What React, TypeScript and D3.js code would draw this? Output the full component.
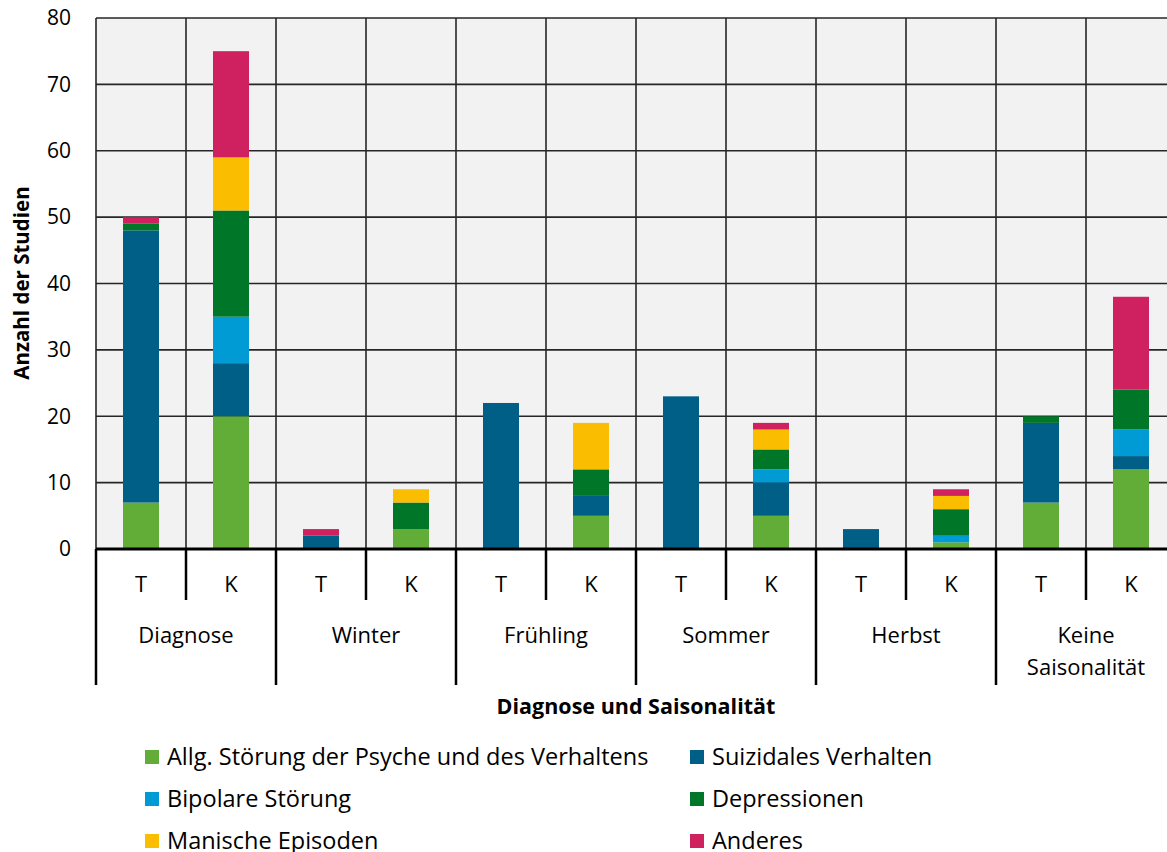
import React from "react";
import * as d3 from "d3";

const groups = ["Diagnose", "Winter", "Frühling", "Sommer", "Herbst", "Keine Saisonalität"];
const subs = ["T", "K"];
const seriesNames = [
  "Allg. Störung der Psyche und des Verhaltens",
  "Suizidales Verhalten",
  "Bipolare Störung",
  "Depressionen",
  "Manische Episoden",
  "Anderes",
];
const seriesColors = ["#62ad37", "#005f87", "#009ad4", "#007629", "#fbbd00", "#cf2060"];
// bars in order: Diagnose T, Diagnose K, Winter T, Winter K, ...
const allg = [7, 20, 0, 3, 0, 5, 0, 5, 0, 1, 7, 12];
const suiz = [41, 8, 2, 0, 22, 3, 23, 5, 3, 0, 12, 2];
const bipolar = [0, 7, 0, 0, 0, 0, 0, 2, 0, 1, 0, 4];
const depr = [1, 16, 0, 4, 0, 4, 0, 3, 0, 4, 1, 6];
const manisch = [0, 8, 0, 2, 0, 7, 0, 3, 0, 2, 0, 0];
const anderes = [1, 16, 1, 0, 0, 0, 0, 1, 0, 1, 0, 14];
const yTicks = [0, 10, 20, 30, 40, 50, 60, 70, 80];

const FONT = "'Open Sans', 'Noto Sans', sans-serif";

export default function App() {
  const W = 1167, H = 852;
  const left = 96, top = 18, bottom = 549;
  const slot = 90;
  const nBars = groups.length * subs.length;
  const right = left + slot * nBars;
  const barKeys = d3.range(nBars).map(String);
  const x = d3.scaleBand().domain(barKeys).range([left, right]).paddingInner(0.6).paddingOuter(0.3);
  const y = d3.scaleLinear().domain([0, 80]).range([bottom, top]);
  const table = barKeys.map((k, i) => ({
    key: k,
    s0: allg[i], s1: suiz[i], s2: bipolar[i], s3: depr[i], s4: manisch[i], s5: anderes[i],
  }));
  const stack = d3.stack<any>().keys(["s0", "s1", "s2", "s3", "s4", "s5"]);
  const layers = stack(table);
  const gridColor = "#262626";

  return (
    <svg width={W} height={H} style={{ position: "absolute", left: 0, top: 0 }} fontFamily={FONT}>
      <rect x={left} y={top} width={right - left} height={bottom - top} fill="#f2f2f2" />
      {yTicks.map((t) => (
        <line key={"g" + t} x1={left} x2={right} y1={y(t)} y2={y(t)} stroke={gridColor} strokeWidth={1.6} />
      ))}
      {d3.range(nBars + 1).map((i) => (
        <line key={"v" + i} x1={left + i * slot} x2={left + i * slot} y1={top} y2={bottom} stroke={gridColor} strokeWidth={1.6} />
      ))}
      {layers.map((layer, si) => (
        <g key={si} fill={seriesColors[si]}>
          {layer.map((d, i) =>
            d[1] - d[0] > 0 ? (
              <rect key={i} x={x(barKeys[i])} width={x.bandwidth()} y={y(d[1])} height={y(d[0]) - y(d[1])} />
            ) : null
          )}
        </g>
      ))}
      {yTicks.map((t) => (
        <text key={"t" + t} x={71} y={y(t)} dy="0.35em" textAnchor="end" fontSize={21} fill="#000">{t}</text>
      ))}
      <line x1={left} x2={right} y1={bottom} y2={bottom} stroke="#000" strokeWidth={3} />
      {d3.range(nBars + 1).map((i) => (
        <line key={"xt" + i} x1={left + i * slot} x2={left + i * slot} y1={bottom} y2={i % 2 === 0 ? 685 : 600} stroke="#000" strokeWidth={2.5} />
      ))}
      {barKeys.map((k, i) => (
        <text key={"s" + i} x={(x(k) as number) + x.bandwidth() / 2} y={584} dy="0.35em" textAnchor="middle" fontSize={22} fill="#000">{subs[i % 2]}</text>
      ))}
      {groups.map((g, gi) => {
        const cx = left + gi * slot * 2 + slot;
        const words = g === "Keine Saisonalität" ? ["Keine", "Saisonalität"] : [g];
        return words.map((w, wi) => (
          <text key={g + wi} x={cx} y={635 + wi * 32} dy="0.35em" textAnchor="middle" fontSize={22} fill="#000">{w}</text>
        ));
      })}
      <text x={636} y={706} dy="0.35em" textAnchor="middle" fontSize={21.5} fontWeight="bold" fill="#000">Diagnose und Saisonalität</text>
      <text transform="translate(22,283) rotate(-90)" dy="0.35em" textAnchor="middle" fontSize={20.5} fontWeight="bold" fill="#000">Anzahl der Studien</text>
      {seriesNames.map((n, i) => {
        const col = i % 2;
        const row = Math.floor(i / 2);
        const lx = col === 0 ? 145 : 690;
        const ly = 757 + row * 42;
        return (
          <g key={n}>
            <rect x={lx} y={ly - 7} width={14} height={14} fill={seriesColors[i]} />
            <text x={lx + 22} y={ly} dy="0.35em" fontSize={23.5} fill="#000">{n}</text>
          </g>
        );
      })}
    </svg>
  );
}
